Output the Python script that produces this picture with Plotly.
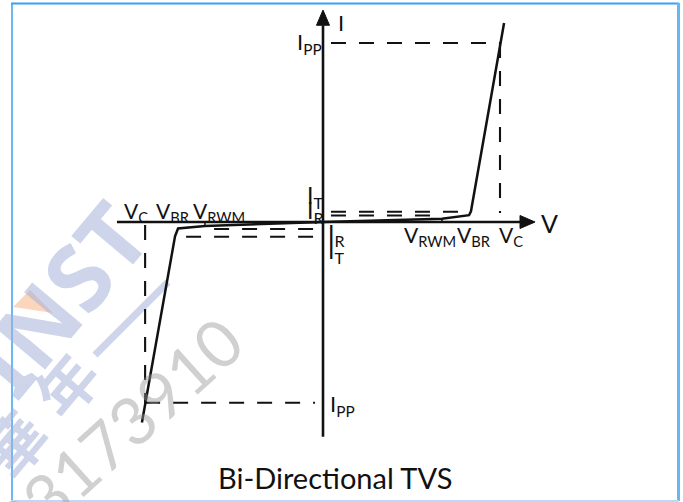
import plotly.graph_objects as go

# ---------------- data (schematic units) ----------------
# positive branch of the bi-directional TVS I-V curve
curve_pos_v = [0.0, 6.72, 8.25, 8.36, 10.23]
curve_pos_i = [0.0, 0.18, 0.38, 0.60, 11.12]
# negative branch
curve_neg_v = [0.0, -6.67, -8.19, -8.36, -10.23]
curve_neg_i = [0.0, -0.22, -0.36, -0.80, -11.20]

# characteristic values
v_rwm = [6.72, -6.67]
v_br = [8.36, -8.25]
v_c = [10.0, -10.05]
i_pp = [10.0, -10.1]
i_t = [0.57, -0.82]
i_r = [0.36, -0.39]

# axis extents
x_axis = [-11.64, 11.98]
y_axis = [-12.0, 11.84]

# ---------------- layout helpers ----------------
W, H = 683, 502
X0, Y0 = 323.0, 222.0      # pixel position of the origin
SX, SY = 17.7, 17.9        # pixels per unit
xr = [-X0 / SX, (W - X0) / SX]
yr = [(Y0 - H) / SY, Y0 / SY]


def px(x, y):
    return (x - X0) / SX, (Y0 - y) / SY


fig = go.Figure()
BLACK = "#111111"
DASH = "15px,13px"


def dline(xs, ys, w=2.1):
    fig.add_trace(go.Scatter(x=xs, y=ys, mode="lines",
                             line=dict(color=BLACK, width=w, dash=DASH),
                             hoverinfo="skip", showlegend=False))


gap = 0.45
# dashed guides (positive side)
dline([gap, v_c[0]], [i_pp[0], i_pp[0]])
dline([v_c[0], v_c[0]], [i_pp[0], 0.5])
dline([gap, v_br[0]], [i_t[0], i_t[0]])
dline([gap, v_rwm[0]], [i_r[0], i_r[0]])
# dashed guides (negative side)
dline([-0.56, v_rwm[1]], [i_r[1], i_r[1]])
dline([-0.56, v_br[1]], [i_t[1], i_t[1]])
dline([v_c[1], v_c[1]], [-0.17, i_pp[1]])
dline([v_c[1], -gap], [i_pp[1], i_pp[1]])

# axes
ah = 0.85  # arrow head length (units)
fig.add_trace(go.Scatter(x=[x_axis[0], x_axis[1] - ah], y=[0, 0], mode="lines",
                         line=dict(color=BLACK, width=2.6), hoverinfo="skip", showlegend=False))
fig.add_trace(go.Scatter(x=[0, 0], y=[y_axis[0], y_axis[1] - ah], mode="lines",
                         line=dict(color=BLACK, width=2.6), hoverinfo="skip", showlegend=False))
hw_y = 6.5 / SY
hw_x = 6.5 / SX
fig.add_trace(go.Scatter(x=[x_axis[1] - ah, x_axis[1], x_axis[1] - ah, x_axis[1] - ah],
                         y=[hw_y, 0, -hw_y, hw_y], mode="lines", fill="toself",
                         fillcolor=BLACK, line=dict(color=BLACK, width=1),
                         hoverinfo="skip", showlegend=False))
fig.add_trace(go.Scatter(x=[-hw_x, 0, hw_x, -hw_x],
                         y=[y_axis[1] - ah, y_axis[1], y_axis[1] - ah, y_axis[1] - ah],
                         mode="lines", fill="toself",
                         fillcolor=BLACK, line=dict(color=BLACK, width=1),
                         hoverinfo="skip", showlegend=False))

# small V_RWM ticks
fig.add_trace(go.Scatter(x=[v_rwm[0], v_rwm[0]], y=[0, curve_pos_i[1]], mode="lines",
                         line=dict(color=BLACK, width=1.5), hoverinfo="skip", showlegend=False))
fig.add_trace(go.Scatter(x=[v_rwm[1], v_rwm[1]], y=[0, curve_neg_i[1]], mode="lines",
                         line=dict(color=BLACK, width=1.5), hoverinfo="skip", showlegend=False))

# I-V curve
fig.add_trace(go.Scatter(x=curve_pos_v, y=curve_pos_i, mode="lines",
                         line=dict(color=BLACK, width=2.5), hoverinfo="skip", showlegend=False))
fig.add_trace(go.Scatter(x=curve_neg_v, y=curve_neg_i, mode="lines",
                         line=dict(color=BLACK, width=2.5), hoverinfo="skip", showlegend=False))

FONT = "Lato"
annos = []


def lab(text, x, y, size, xa="left", ya="middle", color=BLACK, angle=0, family=FONT,
        weight="normal"):
    dx, dy = px(x, y)
    annos.append(dict(x=dx, y=dy, xref="x", yref="y", text=text, showarrow=False,
                      xanchor=xa, yanchor=ya, textangle=angle,
                      font=dict(family=family, size=size, color=color, weight=weight)))


WM = "rgba(165,176,216,0.55)"
# watermark (drawn first, light)
lab("INST", 58, 298, 92, xa="center", color=WM, angle=-50,
    family="Noto Sans", weight="bold")
lab("年", 64, 383, 60, xa="center", color=WM, angle=-50,
    family="Noto Sans CJK SC", weight="bold")
lab("華", 12, 442, 60, xa="center", color=WM, angle=-50,
    family="Noto Sans CJK SC", weight="bold")
lab("23173910", 117, 432, 66, xa="center", color="rgba(150,150,150,0.45)", angle=-42,
    family="Lato")

# axis labels
lab("V", 549, 223, 25, xa="center")
lab("I", 341, 22, 22, xa="center")
# I_PP labels
lab("I<sub>PP</sub>", 295, 43, 22, xa="left")
lab("I<sub>PP</sub>", 328, 405, 22, xa="left")
# left labels (above axis)
lab("V<sub>C</sub>", 122, 212, 21, xa="left")
lab("V<sub>BR</sub>", 154, 212, 21, xa="left")
lab("V<sub>RWM</sub>", 191, 212, 21, xa="left")
# right labels (below axis)
lab("V<sub>RWM</sub>", 402, 236, 21, xa="left")
lab("V<sub>BR</sub>", 455, 236, 21, xa="left")
lab("V<sub>C</sub>", 497, 236, 21, xa="left")
# I_T / I_R near y axis
lab("I<sub>T</sub>", 305, 196, 23, xa="left")
lab("I<sub>R</sub>", 305, 211, 23, xa="left")
lab("I<sub>R</sub>", 326, 234, 23, xa="left")
lab("I<sub>T</sub>", 326, 251, 23, xa="left")

# title
lab("Bi-Directional TVS", 335, 477, 29, xa="center")


# frame and watermark shapes (pixel space via paper coords)
def pp(x, y):
    return x / W, 1 - y / H


shapes = []


def sline(x1, y1, x2, y2, color, width, layer="above"):
    a, b = pp(x1, y1)
    c, d = pp(x2, y2)
    shapes.append(dict(type="line", xref="paper", yref="paper", x0=a, y0=b, x1=c, y1=d,
                       line=dict(color=color, width=width), layer=layer))


sline(95, 355, 168, 282, WM, 7, layer="below")
t = [pp(13, 307), pp(30, 290), pp(53, 313)]
shapes.append(dict(type="path", xref="paper", yref="paper",
                   path="M {} {} L {} {} L {} {} Z".format(t[0][0], t[0][1], t[1][0], t[1][1], t[2][0], t[2][1]),
                   fillcolor="rgba(250,200,165,0.75)", line=dict(width=0), layer="below"))
sline(11, 3.5, 679, 3.5, "#3aa0f2", 2)
sline(12, 3, 12, 501, "#3aa0f2", 1.5)
sline(678.5, 3, 678.5, 501, "#66b8f5", 3)
sline(11, 501, 679, 501, "#b8dcf8", 2)

fig.update_layout(
    width=W, height=H, margin=dict(l=0, r=0, t=0, b=0),
    paper_bgcolor="white", plot_bgcolor="white",
    xaxis=dict(range=xr, visible=False, fixedrange=True),
    yaxis=dict(range=yr, visible=False, fixedrange=True),
    annotations=annos, shapes=shapes, showlegend=False,
)
fig.write_html("out.html", config={"displayModeBar": False},
               post_script="document.body.style.margin='0px';document.body.style.overflow='hidden';")
